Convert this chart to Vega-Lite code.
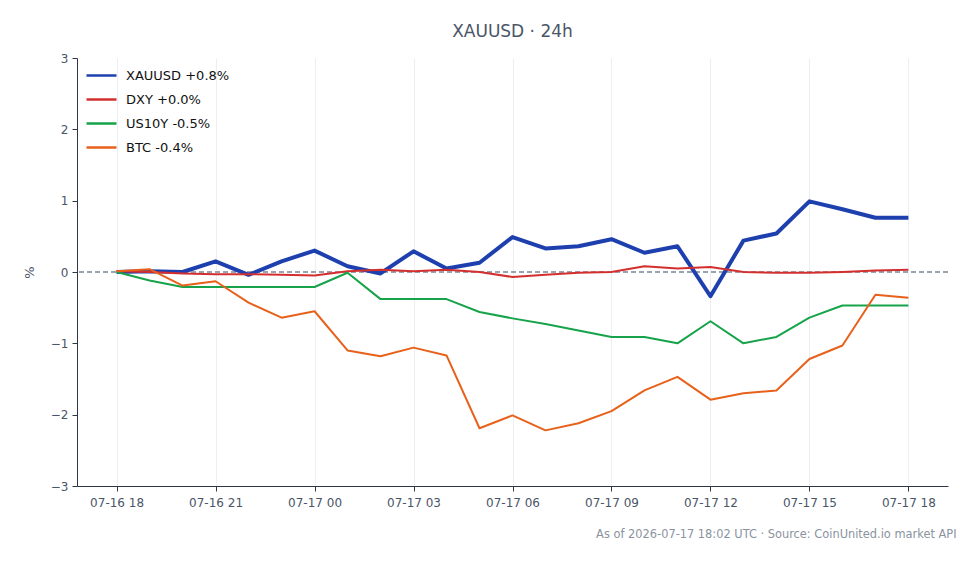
{
  "$schema": "https://vega.github.io/schema/vega-lite/v6.json",
  "autosize": "none",
  "width": 871,
  "height": 428,
  "padding": {"left": 77, "top": 58, "right": 32, "bottom": 78},
  "background": "white",
  "config": {
    "font": "DejaVu Sans",
    "view": {"stroke": null}
  },
  "title": {
    "text": "XAUUSD · 24h",
    "fontSize": 17,
    "fontWeight": "normal",
    "color": "#4a5568",
    "anchor": "middle",
    "offset": 11
  },
  "data": {
    "values": [
      {"t": "2026-07-16T18:00:00Z", "s": "XAUUSD +0.8%", "v": 0.0},
      {"t": "2026-07-16T19:00:00Z", "s": "XAUUSD +0.8%", "v": 0.01},
      {"t": "2026-07-16T20:00:00Z", "s": "XAUUSD +0.8%", "v": 0.0},
      {"t": "2026-07-16T21:00:00Z", "s": "XAUUSD +0.8%", "v": 0.15},
      {"t": "2026-07-16T22:00:00Z", "s": "XAUUSD +0.8%", "v": -0.04},
      {"t": "2026-07-16T23:00:00Z", "s": "XAUUSD +0.8%", "v": 0.15},
      {"t": "2026-07-17T00:00:00Z", "s": "XAUUSD +0.8%", "v": 0.3},
      {"t": "2026-07-17T01:00:00Z", "s": "XAUUSD +0.8%", "v": 0.08},
      {"t": "2026-07-17T02:00:00Z", "s": "XAUUSD +0.8%", "v": -0.02},
      {"t": "2026-07-17T03:00:00Z", "s": "XAUUSD +0.8%", "v": 0.29},
      {"t": "2026-07-17T04:00:00Z", "s": "XAUUSD +0.8%", "v": 0.05},
      {"t": "2026-07-17T05:00:00Z", "s": "XAUUSD +0.8%", "v": 0.13},
      {"t": "2026-07-17T06:00:00Z", "s": "XAUUSD +0.8%", "v": 0.49},
      {"t": "2026-07-17T07:00:00Z", "s": "XAUUSD +0.8%", "v": 0.33},
      {"t": "2026-07-17T08:00:00Z", "s": "XAUUSD +0.8%", "v": 0.36},
      {"t": "2026-07-17T09:00:00Z", "s": "XAUUSD +0.8%", "v": 0.46},
      {"t": "2026-07-17T10:00:00Z", "s": "XAUUSD +0.8%", "v": 0.27},
      {"t": "2026-07-17T11:00:00Z", "s": "XAUUSD +0.8%", "v": 0.36},
      {"t": "2026-07-17T12:00:00Z", "s": "XAUUSD +0.8%", "v": -0.34},
      {"t": "2026-07-17T13:00:00Z", "s": "XAUUSD +0.8%", "v": 0.44},
      {"t": "2026-07-17T14:00:00Z", "s": "XAUUSD +0.8%", "v": 0.54},
      {"t": "2026-07-17T15:00:00Z", "s": "XAUUSD +0.8%", "v": 0.99},
      {"t": "2026-07-17T16:00:00Z", "s": "XAUUSD +0.8%", "v": 0.88},
      {"t": "2026-07-17T17:00:00Z", "s": "XAUUSD +0.8%", "v": 0.76},
      {"t": "2026-07-17T18:00:00Z", "s": "XAUUSD +0.8%", "v": 0.76},
      {"t": "2026-07-16T18:00:00Z", "s": "DXY +0.0%", "v": 0.01},
      {"t": "2026-07-16T19:00:00Z", "s": "DXY +0.0%", "v": 0.0},
      {"t": "2026-07-16T20:00:00Z", "s": "DXY +0.0%", "v": -0.02},
      {"t": "2026-07-16T21:00:00Z", "s": "DXY +0.0%", "v": -0.03},
      {"t": "2026-07-16T22:00:00Z", "s": "DXY +0.0%", "v": -0.03},
      {"t": "2026-07-16T23:00:00Z", "s": "DXY +0.0%", "v": -0.04},
      {"t": "2026-07-17T00:00:00Z", "s": "DXY +0.0%", "v": -0.05},
      {"t": "2026-07-17T01:00:00Z", "s": "DXY +0.0%", "v": 0.01},
      {"t": "2026-07-17T02:00:00Z", "s": "DXY +0.0%", "v": 0.03},
      {"t": "2026-07-17T03:00:00Z", "s": "DXY +0.0%", "v": 0.01},
      {"t": "2026-07-17T04:00:00Z", "s": "DXY +0.0%", "v": 0.03},
      {"t": "2026-07-17T05:00:00Z", "s": "DXY +0.0%", "v": 0.0},
      {"t": "2026-07-17T06:00:00Z", "s": "DXY +0.0%", "v": -0.07},
      {"t": "2026-07-17T07:00:00Z", "s": "DXY +0.0%", "v": -0.04},
      {"t": "2026-07-17T08:00:00Z", "s": "DXY +0.0%", "v": -0.01},
      {"t": "2026-07-17T09:00:00Z", "s": "DXY +0.0%", "v": 0.0},
      {"t": "2026-07-17T10:00:00Z", "s": "DXY +0.0%", "v": 0.08},
      {"t": "2026-07-17T11:00:00Z", "s": "DXY +0.0%", "v": 0.05},
      {"t": "2026-07-17T12:00:00Z", "s": "DXY +0.0%", "v": 0.07},
      {"t": "2026-07-17T13:00:00Z", "s": "DXY +0.0%", "v": 0.0},
      {"t": "2026-07-17T14:00:00Z", "s": "DXY +0.0%", "v": -0.01},
      {"t": "2026-07-17T15:00:00Z", "s": "DXY +0.0%", "v": -0.01},
      {"t": "2026-07-17T16:00:00Z", "s": "DXY +0.0%", "v": 0.0},
      {"t": "2026-07-17T17:00:00Z", "s": "DXY +0.0%", "v": 0.02},
      {"t": "2026-07-17T18:00:00Z", "s": "DXY +0.0%", "v": 0.03},
      {"t": "2026-07-16T18:00:00Z", "s": "US10Y -0.5%", "v": 0.0},
      {"t": "2026-07-16T19:00:00Z", "s": "US10Y -0.5%", "v": -0.12},
      {"t": "2026-07-16T20:00:00Z", "s": "US10Y -0.5%", "v": -0.21},
      {"t": "2026-07-16T21:00:00Z", "s": "US10Y -0.5%", "v": -0.21},
      {"t": "2026-07-16T22:00:00Z", "s": "US10Y -0.5%", "v": -0.21},
      {"t": "2026-07-16T23:00:00Z", "s": "US10Y -0.5%", "v": -0.21},
      {"t": "2026-07-17T00:00:00Z", "s": "US10Y -0.5%", "v": -0.21},
      {"t": "2026-07-17T01:00:00Z", "s": "US10Y -0.5%", "v": -0.01},
      {"t": "2026-07-17T02:00:00Z", "s": "US10Y -0.5%", "v": -0.38},
      {"t": "2026-07-17T03:00:00Z", "s": "US10Y -0.5%", "v": -0.38},
      {"t": "2026-07-17T04:00:00Z", "s": "US10Y -0.5%", "v": -0.38},
      {"t": "2026-07-17T05:00:00Z", "s": "US10Y -0.5%", "v": -0.56},
      {"t": "2026-07-17T06:00:00Z", "s": "US10Y -0.5%", "v": -0.65},
      {"t": "2026-07-17T07:00:00Z", "s": "US10Y -0.5%", "v": -0.73},
      {"t": "2026-07-17T08:00:00Z", "s": "US10Y -0.5%", "v": -0.82},
      {"t": "2026-07-17T09:00:00Z", "s": "US10Y -0.5%", "v": -0.91},
      {"t": "2026-07-17T10:00:00Z", "s": "US10Y -0.5%", "v": -0.91},
      {"t": "2026-07-17T11:00:00Z", "s": "US10Y -0.5%", "v": -1.0},
      {"t": "2026-07-17T12:00:00Z", "s": "US10Y -0.5%", "v": -0.69},
      {"t": "2026-07-17T13:00:00Z", "s": "US10Y -0.5%", "v": -1.0},
      {"t": "2026-07-17T14:00:00Z", "s": "US10Y -0.5%", "v": -0.91},
      {"t": "2026-07-17T15:00:00Z", "s": "US10Y -0.5%", "v": -0.64},
      {"t": "2026-07-17T16:00:00Z", "s": "US10Y -0.5%", "v": -0.47},
      {"t": "2026-07-17T17:00:00Z", "s": "US10Y -0.5%", "v": -0.47},
      {"t": "2026-07-17T18:00:00Z", "s": "US10Y -0.5%", "v": -0.47},
      {"t": "2026-07-16T18:00:00Z", "s": "BTC -0.4%", "v": 0.01},
      {"t": "2026-07-16T19:00:00Z", "s": "BTC -0.4%", "v": 0.04},
      {"t": "2026-07-16T20:00:00Z", "s": "BTC -0.4%", "v": -0.19},
      {"t": "2026-07-16T21:00:00Z", "s": "BTC -0.4%", "v": -0.13},
      {"t": "2026-07-16T22:00:00Z", "s": "BTC -0.4%", "v": -0.43},
      {"t": "2026-07-16T23:00:00Z", "s": "BTC -0.4%", "v": -0.64},
      {"t": "2026-07-17T00:00:00Z", "s": "BTC -0.4%", "v": -0.55},
      {"t": "2026-07-17T01:00:00Z", "s": "BTC -0.4%", "v": -1.1},
      {"t": "2026-07-17T02:00:00Z", "s": "BTC -0.4%", "v": -1.18},
      {"t": "2026-07-17T03:00:00Z", "s": "BTC -0.4%", "v": -1.06},
      {"t": "2026-07-17T04:00:00Z", "s": "BTC -0.4%", "v": -1.17},
      {"t": "2026-07-17T05:00:00Z", "s": "BTC -0.4%", "v": -2.19},
      {"t": "2026-07-17T06:00:00Z", "s": "BTC -0.4%", "v": -2.01},
      {"t": "2026-07-17T07:00:00Z", "s": "BTC -0.4%", "v": -2.22},
      {"t": "2026-07-17T08:00:00Z", "s": "BTC -0.4%", "v": -2.12},
      {"t": "2026-07-17T09:00:00Z", "s": "BTC -0.4%", "v": -1.95},
      {"t": "2026-07-17T10:00:00Z", "s": "BTC -0.4%", "v": -1.66},
      {"t": "2026-07-17T11:00:00Z", "s": "BTC -0.4%", "v": -1.47},
      {"t": "2026-07-17T12:00:00Z", "s": "BTC -0.4%", "v": -1.79},
      {"t": "2026-07-17T13:00:00Z", "s": "BTC -0.4%", "v": -1.7},
      {"t": "2026-07-17T14:00:00Z", "s": "BTC -0.4%", "v": -1.66},
      {"t": "2026-07-17T15:00:00Z", "s": "BTC -0.4%", "v": -1.22},
      {"t": "2026-07-17T16:00:00Z", "s": "BTC -0.4%", "v": -1.03},
      {"t": "2026-07-17T17:00:00Z", "s": "BTC -0.4%", "v": -0.32},
      {"t": "2026-07-17T18:00:00Z", "s": "BTC -0.4%", "v": -0.36}
    ]
  },
  "layer": [
    {
      "mark": {"type": "rule", "strokeDash": [5, 3], "color": "#9aa3b0", "strokeWidth": 1},
      "encoding": {"y": {"datum": 0, "type": "quantitative"}}
    },
    {
      "mark": {"type": "line", "strokeJoin": "round"},
      "encoding": {
        "x": {
          "field": "t",
          "type": "temporal",
          "scale": {"type": "utc", "domain": ["2026-07-16T16:48:00Z", "2026-07-17T19:12:00Z"], "nice": false},
          "axis": {
            "title": "As of 2026-07-17 18:02 UTC · Source: CoinUnited.io market API",
            "titleFontSize": 11.4,
            "titleFontWeight": "normal",
            "titleColor": "#8a93a0",
            "titleAnchor": "end",
            "titleAlign": "right",
            "titleBaseline": "alphabetic",
            "titleX": 879,
            "titleY": 51,
            "labelExpr": "utcFormat(datum.value, '%m-%d %H')",
            "tickCount": 9,
            "labelFontSize": 12,
            "labelColor": "#4a5568",
            "labelPadding": 6,
            "labelFlush": false,
            "tickColor": "#2d3748",
            "tickSize": 5,
            "domainColor": "#2d3748",
            "gridColor": "#eceef2"
          }
        },
        "y": {
          "field": "v",
          "type": "quantitative",
          "scale": {"domain": [-3, 3], "nice": false, "zero": false},
          "axis": {
            "title": "%",
            "titleFontSize": 13,
            "titleFontWeight": "normal",
            "titleColor": "#4a5568",
            "titlePadding": 14,
            "values": [-3, -2, -1, 0, 1, 2, 3],
            "format": "d",
            "labelFontSize": 12,
            "labelColor": "#4a5568",
            "labelPadding": 4,
            "tickColor": "#2d3748",
            "tickSize": 5,
            "domainColor": "#2d3748",
            "gridColor": "#eceef2"
          }
        },
        "color": {
          "field": "s",
          "type": "nominal",
          "scale": {
            "domain": ["XAUUSD +0.8%", "DXY +0.0%", "US10Y -0.5%", "BTC -0.4%"],
            "range": ["#1e40af", "#d32f2f", "#16a34a", "#e8611a"]
          },
          "legend": {
            "title": null,
            "orient": "none",
            "legendX": 8,
            "legendY": 1,
            "symbolType": "stroke",
            "symbolSize": 900,
            "symbolStrokeWidth": 2.5,
            "labelFontSize": 13,
            "labelColor": "#111111",
            "labelOffset": 8,
            "rowPadding": -5,
            "padding": 0
          }
        },
        "strokeWidth": {
          "condition": {"test": "datum.s === 'XAUUSD +0.8%'", "value": 4},
          "value": 2
        }
      }
    }
  ]
}
